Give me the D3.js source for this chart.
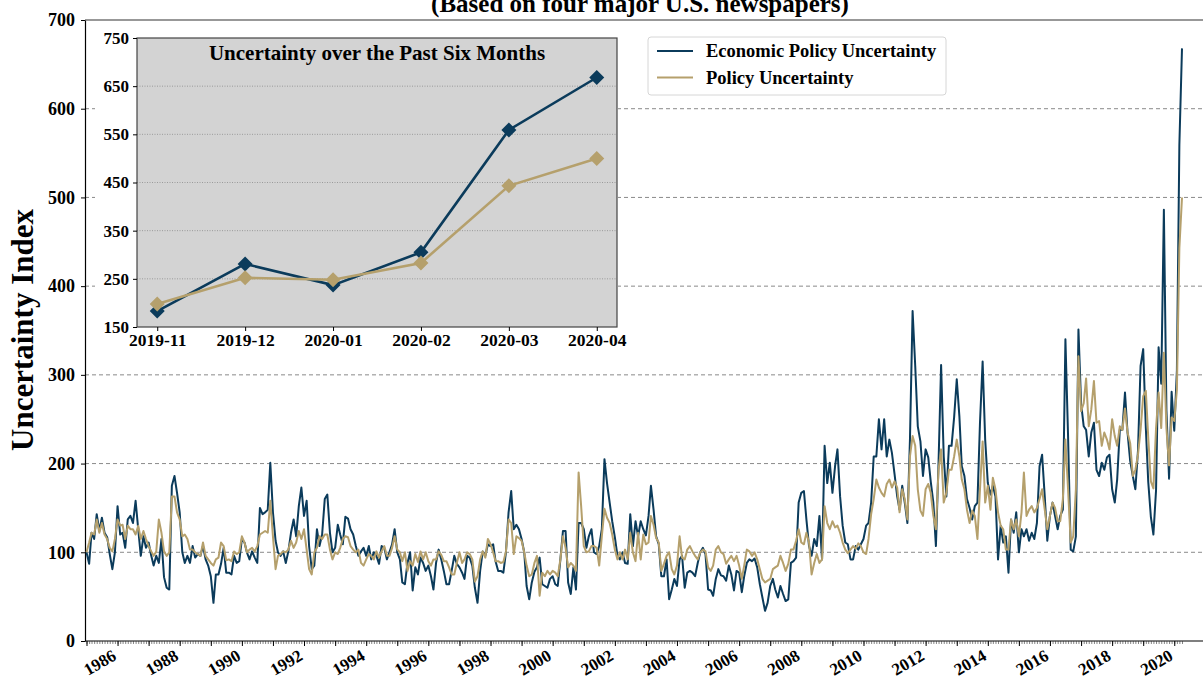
<!DOCTYPE html>
<html>
<head>
<meta charset="utf-8">
<script src="https://cdn.jsdelivr.net/npm/d3@7"></script>
<style>
  body { margin: 0; background: #fff; }
  text { font-family: "Liberation Serif", "Times New Roman", serif; font-weight: bold; fill: #000; }
</style>
</head>
<body>
<div id="chart"></div>
<script>
// monthly values, Jan 1985 .. Apr 2020 (one row per year)
var startYear = 1985;
var epu = [
  100, 87, 122, 115, 143, 124, 139, 122, 117, 98, 81, 100,
  152, 120, 122, 105, 137, 141, 133, 158, 126, 96, 118, 105,
  111, 96, 85, 96, 88, 115, 72, 60, 58, 175, 186, 167,
  145, 100, 88, 96, 88, 107, 94, 98, 96, 107, 92, 85,
  73, 43, 75, 75, 87, 105, 77, 77, 75, 96, 88, 90,
  115, 111, 100, 92, 101, 94, 88, 150, 143, 145, 148, 201,
  145, 113, 100, 96, 101, 88, 101, 122, 137, 118, 152, 173,
  141, 158, 107, 81, 85, 126, 107, 120, 160, 165, 122, 100,
  105, 131, 120, 109, 140, 138, 126, 120, 107, 96, 101, 105,
  96, 107, 92, 100, 96, 87, 107, 105, 92, 100, 109, 126,
  100, 92, 66, 64, 88, 100, 57, 83, 75, 94, 88, 79,
  85, 73, 58, 88, 103, 92, 79, 64, 64, 79, 96, 87,
  83, 77, 70, 96, 94, 85, 60, 43, 79, 101, 96, 109,
  107, 109, 90, 79, 79, 77, 100, 145, 169, 126, 131, 126,
  115, 100, 62, 47, 66, 78, 83, 94, 64, 62, 60, 70,
  73, 64, 62, 92, 124, 124, 66, 53, 83, 58, 133, 133,
  126, 105, 118, 126, 100, 98, 107, 126, 205, 178, 156, 135,
  117, 96, 92, 100, 88, 87, 143, 107, 135, 118, 135, 126,
  119, 141, 175, 148, 118, 109, 73, 73, 92, 47, 58, 70,
  62, 92, 96, 60, 77, 79, 77, 73, 88, 100, 105, 98,
  58, 57, 51, 70, 81, 74, 73, 68, 85, 75, 57, 79,
  77, 55, 73, 88, 92, 90, 93, 83, 64, 49, 34, 43,
  62, 70, 58, 49, 62, 53, 45, 47, 88, 90, 94, 156,
  167, 169, 137, 107, 96, 115, 107, 141, 92, 220, 178, 201,
  167, 197, 216, 163, 130, 111, 109, 92, 92, 107, 103, 109,
  115, 130, 133, 156, 208, 208, 250, 216, 250, 208, 227, 212,
  188, 163, 148, 175, 156, 133, 227, 372, 310, 242, 225, 186,
  216, 207, 180, 156, 107, 201, 311, 208, 163, 220, 220, 252,
  295, 253, 197, 186, 160, 150, 137, 152, 156, 246, 315, 227,
  178, 165, 175, 163, 92, 130, 111, 118, 77, 137, 122, 145,
  100, 126, 118, 126, 113, 122, 115, 133, 197, 210, 163, 113,
  141, 156, 141, 126, 141, 148, 340, 231, 103, 101, 118, 351,
  268, 242, 238, 208, 235, 246, 193, 186, 201, 193, 207, 210,
  171, 156, 182, 238, 238, 280, 235, 203, 186, 171, 215, 310,
  329, 240, 180, 140, 120, 170, 331, 290, 486, 260, 183, 281,
  237, 305, 559, 668
];
var pu = [
  100, 111, 122, 120, 137, 122, 133, 120, 115, 105, 101, 115,
  137, 130, 131, 115, 130, 126, 126, 120, 130, 115, 124, 115,
  107, 101, 96, 101, 137, 122, 101, 96, 100, 163, 163, 145,
  137, 118, 120, 115, 103, 103, 100, 98, 96, 111, 96, 92,
  88, 85, 92, 94, 111, 107, 91, 92, 90, 101, 98, 100,
  118, 111, 100, 103, 105, 101, 107, 120, 122, 124, 122, 158,
  118, 81, 96, 98, 101, 100, 103, 113, 105, 111, 124, 115,
  126, 103, 81, 75, 100, 105, 118, 115, 120, 120, 103, 92,
  100, 98, 105, 115, 118, 117, 107, 103, 100, 103, 88, 85,
  92, 98, 96, 92, 101, 94, 101, 107, 96, 96, 105, 118,
  103, 100, 90, 100, 79, 90, 85, 98, 89, 101, 92, 100,
  90, 85, 92, 92, 101, 97, 90, 90, 83, 75, 75, 88,
  100, 88, 92, 100, 98, 92, 67, 73, 92, 101, 94, 115,
  109, 100, 90, 90, 88, 89, 101, 137, 133, 98, 118, 116,
  113, 100, 85, 73, 75, 88, 96, 51, 77, 73, 79, 75,
  79, 77, 73, 92, 118, 105, 83, 88, 85, 79, 190, 152,
  107, 100, 101, 107, 107, 105, 85, 118, 149, 139, 133, 120,
  103, 92, 100, 92, 103, 92, 122, 100, 90, 122, 92, 120,
  109, 111, 141, 131, 116, 111, 79, 87, 96, 100, 81, 75,
  85, 118, 94, 92, 103, 107, 101, 96, 92, 100, 103, 101,
  83, 79, 85, 103, 107, 100, 98, 87, 92, 96, 90, 96,
  85, 70, 85, 103, 101, 96, 100, 92, 81, 70, 66, 68,
  70, 81, 83, 85, 96, 88, 79, 87, 103, 103, 113, 126,
  111, 109, 122, 111, 75, 88, 98, 88, 92, 152, 133, 126,
  135, 128, 130, 122, 111, 103, 99, 103, 107, 104, 110, 107,
  100, 98, 115, 143, 160, 182, 173, 167, 163, 177, 182, 173,
  180, 173, 145, 171, 160, 137, 208, 231, 220, 171, 147, 141,
  171, 177, 167, 141, 126, 193, 216, 156, 167, 193, 193, 208,
  227, 208, 182, 171, 148, 133, 147, 141, 115, 171, 225, 156,
  175, 148, 184, 171, 145, 130, 126, 103, 103, 137, 126, 137,
  118, 145, 190, 141, 148, 152, 145, 150, 160, 171, 148, 126,
  141, 156, 150, 135, 135, 160, 227, 171, 111, 118, 171, 321,
  259, 268, 296, 242, 261, 293, 246, 248, 220, 235, 227, 216,
  250, 231, 220, 242, 238, 262, 235, 223, 186, 193, 210, 238,
  276, 282, 230, 180, 172, 240, 280, 240, 325, 240, 198, 252,
  248, 283, 443, 500
];
var seriesNames = ["Economic Policy Uncertainty", "Policy Uncertainty"];
var mainTicks = [0, 100, 200, 300, 400, 500, 600, 700];
var insetMonths = ["2019-11", "2019-12", "2020-01", "2020-02", "2020-03", "2020-04"];
var insetTicks = [150, 250, 350, 450, 550, 650, 750];

var colEPU = "#0b3b5b", colPU = "#b5a06c";
var W = 1203, H = 681;
var serif = "'Liberation Serif', 'Times New Roman', serif";

var svg = d3.select("#chart").append("svg")
  .attr("width", W).attr("height", H)
  .style("display", "block");
svg.append("rect").attr("width", W).attr("height", H).attr("fill", "#fff");

var start = new Date(startYear, 0, 1);
var dates = epu.map(function(d, i){ return d3.timeMonth.offset(start, i); });

var x = d3.scaleTime().domain([dates[0], dates[dates.length - 1]]).range([86.5, 1182]);
var y = d3.scaleLinear().domain([0, 700]).range([641, 20]);

// title (second line, cut by the top edge as in the original)
svg.append("text")
  .attr("x", 640).attr("y", 12)
  .attr("text-anchor", "middle")
  .style("font-size", "25px")
  .text("(Based on four major U.S. newspapers)");

// dashed grid
svg.append("g").selectAll("line")
  .data(mainTicks.filter(function(t){ return t > 0 && t < 700; }))
  .join("line")
  .attr("x1", 85).attr("x2", W)
  .attr("y1", function(d){ return y(d); }).attr("y2", function(d){ return y(d); })
  .attr("stroke", "#8a8a8a").attr("stroke-width", 1)
  .attr("stroke-dasharray", "4,3");

// frame
svg.append("line").attr("x1", 85).attr("x2", W).attr("y1", 20).attr("y2", 20)
  .attr("stroke", "#333").attr("stroke-width", 1.2);
svg.append("line").attr("x1", 85).attr("x2", W).attr("y1", 641).attr("y2", 641)
  .attr("stroke", "#000").attr("stroke-width", 1.2);

// y axis
var yAxis = svg.append("g").attr("transform", "translate(85,0)")
  .call(d3.axisLeft(y).tickValues(mainTicks).tickSize(4).tickSizeOuter(0));
yAxis.select(".domain").attr("stroke", "#000").attr("stroke-width", 1.2);
yAxis.selectAll("text").attr("x", -10)
  .style("font-size", "18px").style("font-family", serif).style("font-weight", "bold");

svg.append("text")
  .attr("transform", "translate(33,330) rotate(-90)")
  .attr("text-anchor", "middle")
  .style("font-size", "31px")
  .text("Uncertainty Index");

// x axis: monthly minor ticks, yearly ticks, labels every two years
var xMinor = svg.append("g").attr("transform", "translate(0,641)")
  .call(d3.axisBottom(x).ticks(d3.timeMonth.every(1)).tickSize(3).tickFormat(""));
xMinor.select(".domain").remove();
xMinor.selectAll("line").attr("stroke", "#333").attr("stroke-width", 0.6);

var xMajor = svg.append("g").attr("transform", "translate(0,641)")
  .call(d3.axisBottom(x).ticks(d3.timeYear.every(1)).tickSize(5).tickFormat(""));
xMajor.select(".domain").remove();
xMajor.selectAll("line").attr("stroke", "#000").attr("stroke-width", 1);

var xLab = svg.append("g").attr("transform", "translate(0,641)")
  .call(d3.axisBottom(x).ticks(d3.timeYear.every(2)).tickSize(0).tickFormat(d3.timeFormat("%Y")));
xLab.select(".domain").remove();
xLab.selectAll("text")
  .attr("x", 0).attr("y", 0).attr("dy", "0.75em")
  .attr("text-anchor", "end")
  .attr("transform", "translate(-7,7) rotate(-30)")
  .style("font-size", "17px").style("font-family", serif).style("font-weight", "bold");

// main series
var line = d3.line()
  .x(function(d, i){ return x(dates[i]); })
  .y(function(d){ return y(d); });

svg.append("path").datum(epu).attr("d", line)
  .attr("fill", "none").attr("stroke", colEPU).attr("stroke-width", 2)
  .attr("stroke-linejoin", "round");
svg.append("path").datum(pu).attr("d", line)
  .attr("fill", "none").attr("stroke", colPU).attr("stroke-width", 2)
  .attr("stroke-linejoin", "round");

// legend
var lg = svg.append("g");
lg.append("rect").attr("x", 648).attr("y", 37).attr("width", 298).attr("height", 58)
  .attr("rx", 3).attr("fill", "#fff").attr("stroke", "#d6d6d6");
[colEPU, colPU].forEach(function(c, k){
  var yy = 51 + k * 26.5;
  lg.append("line").attr("x1", 657).attr("x2", 693).attr("y1", yy).attr("y2", yy)
    .attr("stroke", c).attr("stroke-width", 2);
  lg.append("text").attr("x", 706).attr("y", yy + 6)
    .style("font-size", "18.5px").text(seriesNames[k]);
});

// inset: last six months
var insetEPU = epu.slice(-6), insetPU = pu.slice(-6);
var ix = d3.scalePoint().domain(insetMonths).range([137, 617]).padding(0.23);
var iy = d3.scaleLinear().domain([150, 750]).range([327, 38]);

var inset = svg.append("g");
inset.append("rect").attr("x", 95).attr("y", 24).attr("width", 523).attr("height", 330)
  .attr("fill", "#fff");
inset.append("rect").attr("x", 137).attr("y", 38).attr("width", 480).attr("height", 289)
  .attr("fill", "#d3d3d3");
inset.append("g").selectAll("line")
  .data(insetTicks.filter(function(t){ return t > 150 && t < 750; }))
  .join("line")
  .attr("x1", 137).attr("x2", 617)
  .attr("y1", function(d){ return iy(d); }).attr("y2", function(d){ return iy(d); })
  .attr("stroke", "#9a9a9a").attr("stroke-width", 1).attr("stroke-dasharray", "1,1.5");
inset.append("rect").attr("x", 137).attr("y", 38).attr("width", 480).attr("height", 289)
  .attr("fill", "none").attr("stroke", "#444").attr("stroke-width", 1.2);

var iyAxis = inset.append("g").attr("transform", "translate(137,0)")
  .call(d3.axisLeft(iy).tickValues(insetTicks).tickSize(4).tickSizeOuter(0));
iyAxis.select(".domain").remove();
iyAxis.selectAll("text").attr("x", -8)
  .style("font-size", "17px").style("font-family", serif).style("font-weight", "bold");

var ixAxis = inset.append("g").attr("transform", "translate(0,327)")
  .call(d3.axisBottom(ix).tickSize(4).tickSizeOuter(0));
ixAxis.select(".domain").remove();
ixAxis.selectAll("text").attr("y", 7)
  .style("font-size", "17.5px").style("font-family", serif).style("font-weight", "bold");

inset.append("text")
  .attr("x", 377).attr("y", 60)
  .attr("text-anchor", "middle")
  .style("font-size", "21px")
  .text("Uncertainty over the Past Six Months");

var iline = d3.line()
  .x(function(d, i){ return ix(insetMonths[i]); })
  .y(function(d){ return iy(d); });
var diamond = "M0,-7.5L7.5,0L0,7.5L-7.5,0Z";

[[insetEPU, colEPU], [insetPU, colPU]].forEach(function(s){
  inset.append("path").datum(s[0]).attr("d", iline)
    .attr("fill", "none").attr("stroke", s[1]).attr("stroke-width", 2.6);
  inset.append("g").selectAll("path").data(s[0]).join("path")
    .attr("d", diamond)
    .attr("transform", function(d, i){ return "translate(" + ix(insetMonths[i]) + "," + iy(d) + ")"; })
    .attr("fill", s[1]);
});
</script>
</body>
</html>
